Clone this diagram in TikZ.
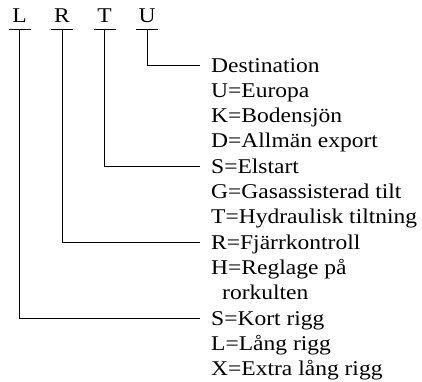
\documentclass[tikz,border=0pt]{standalone}
\usepackage{fontspec}
\setmainfont[FakeStretch=1.12]{Liberation Serif}
\usetikzlibrary{positioning}

\begin{document}
\begin{tikzpicture}[x=1pt, y=-1pt,
        letter/.style={font=\fontsize{21}{24}\selectfont, inner sep=0pt, anchor=base},
        option/.style={font=\fontsize{21}{24}\selectfont, inner sep=0pt, anchor=base west, text height=13.6pt, text depth=0pt},
        link/.style={line width=0.7pt}
    ]
    \useasboundingbox (0,0) rectangle (422,381);

    % Code letters
    \node[letter] (l) at (19.5,22) {L};
    \node[letter] (r) at (62,22) {R};
    \node[letter] (t) at (104.5,22) {T};
    \node[letter] (u) at (147,22) {U};

    % Bars under the letters
    \foreach \c in {l,r,t,u}
        \draw[link] ([xshift=-11pt,yshift=-7.3pt]\c.base) -- ([xshift=11pt,yshift=-7.3pt]\c.base);

    % Destination
    \node[option] (dest) at (211,72) {Destination};
    \node[option] at (211,97.3) {U=Europa};
    \node[option] at (211,122.6) {K=Bodensjön};
    \node[option] at (211,147.9) {D=Allmän export};

    % Start / tilt
    \node[option] (elstart) at (211,173.2) {S=Elstart};
    \node[option] at (211,198.5) {G=Gasassisterad tilt};
    \node[option] at (211,223.8) {T=Hydraulisk tiltning};

    % Control
    \node[option] (fjarr) at (211,249.1) {R=Fjärrkontroll};
    \node[option] at (211,274.4) {H=Reglage på};
    \node[option] at (222,299.7) {rorkulten};

    % Rigg
    \node[option] (kort) at (211,325) {S=Kort rigg};
    \node[option] at (211,350.3) {L=Lång rigg};
    \node[option] at (211,375.6) {X=Extra lång rigg};

    % Connectors
    \draw[link] ([yshift=-7.3pt]u.base) |- ([xshift=-11pt]dest.west);
    \draw[link] ([yshift=-7.3pt]t.base) |- ([xshift=-11pt]elstart.west);
    \draw[link] ([yshift=-7.3pt]r.base) |- ([xshift=-11pt]fjarr.west);
    \draw[link] ([yshift=-7.3pt]l.base) |- ([xshift=-11pt]kort.west);

\end{tikzpicture}
\end{document}
